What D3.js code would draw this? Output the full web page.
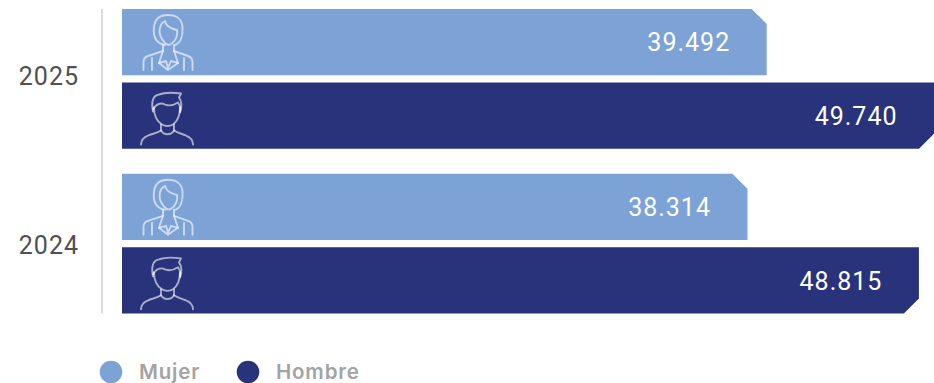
<!DOCTYPE html>
<html>
<head>
<meta charset="utf-8">
<script src="https://cdn.jsdelivr.net/npm/d3@7"></script>
<style>
html,body{margin:0;padding:0;background:#fff;}
svg{display:block;}
</style>
</head>
<body>
<svg id="chart" width="934" height="383"></svg>
<script>
const years = ["2025", "2024"];
const seriesNames = ["Mujer", "Hombre"];
const mujerValues = [39492, 38314];
const hombreValues = [49740, 48815];
const seriesColors = ["#7da2d6", "#29337b"];

const fmt = v => d3.format(",")(v).replace(",", ".");
const svg = d3.select("#chart");

const x = d3.scaleLinear().domain([0, 49740]).range([122, 934]);
const yYear = d3.scaleBand().domain(years).range([9, 313.5]).paddingInner(0.1525);
const ySeries = d3.scaleBand().domain(seriesNames).range([0, yYear.bandwidth()]).paddingInner(0.1);
const yLabel = d3.scalePoint().domain(years).range([76, 245]);

const defs = svg.append("defs");
defs.append("filter").attr("id", "soft").append("feGaussianBlur").attr("stdDeviation", 0.6);

// Line-art portraits, drawn around the icon's own origin
const womanIcon = [
  "M-3,30 C-13,28 -15,20 -14,12 C-13,3 -7,0 0,0 C8,0 14,4 14.5,12 C15,20 13,28 7,30",
  "M-6,24 C-10,18 -9,9 -3,6 C-2,11 4,14 9,15 C10,20 8,26 3,29 C0,31 -3,29 -6,24 Z",
  "M-5,30 L-5,36 L-20,41 C-23,42 -24.5,44 -24.5,47 L-24.5,55",
  "M6,30 L6,36 L20,41 C23,42 24.5,44 24.5,47 L24.5,55",
  "M-5,36 L-9,48 L-2,46 L0,53 L3,46 L10,48 L6,36",
  "M-16,43 L-16,55 M16,43 L16,55 M-9,48 L0,55 L10,48"
];
const manIcon = [
  "M-14,18 C-16,8 -14,2 -8,1 C-3,-1 6,-1 14,0 L12,4 C15,8 15,13 13,19",
  "M-14,16 C-11,10 -6,9 -2,11 C3,13 8,11 11,9 C13,12 14,15 13,18",
  "M-13,14 C-13,22 -10,28 -5,31 C-2,33 3,33 6,31 C10,28 13,23 13,14",
  "M-6,31 L-6,37 C-10,40 -15,40 -19,42 C-24,44 -26,47 -26,51",
  "M7,31 L7,37 C11,40 15,40 19,42 C24,44 26,47 26,51",
  "M-6,37 C-3,42 4,42 7,37"
];

const clip = 15;
// Bar outline with one chamfered corner: top right for Mujer, bottom right for Hombre
const barPath = (x0, x1, y0, h, top) => {
  const p = d3.path();
  p.moveTo(x0, y0);
  if (top) {
    p.lineTo(x1 - clip, y0);
    p.lineTo(x1, y0 + clip);
    p.lineTo(x1, y0 + h);
    p.lineTo(x0, y0 + h);
  } else {
    p.lineTo(x1, y0);
    p.lineTo(x1, y0 + h - clip);
    p.lineTo(x1 - clip, y0 + h);
    p.lineTo(x0, y0 + h);
  }
  p.closePath();
  return p.toString();
};

// Vertical axis rule
svg.append("line")
  .attr("x1", 102).attr("x2", 102)
  .attr("y1", 9).attr("y2", 313.5)
  .attr("stroke", "#dcdcdc").attr("stroke-width", 2);

const rows = years.flatMap((year, i) => [
  {year, name: seriesNames[0], value: mujerValues[i], color: seriesColors[0], icon: womanIcon, iconDx: 46, iconDy: 6},
  {year, name: seriesNames[1], value: hombreValues[i], color: seriesColors[1], icon: manIcon, iconDx: 45, iconDy: 11}
]);

const rowG = svg.selectAll("g.row").data(rows).join("g").attr("class", "row");

rowG.append("path")
  .attr("d", d => barPath(x(0), x(d.value), yYear(d.year) + ySeries(d.name), ySeries.bandwidth(), d.name === "Mujer"))
  .attr("fill", d => d.color);

rowG.append("g")
  .attr("transform", d => `translate(${x(0) + d.iconDx},${yYear(d.year) + ySeries(d.name) + d.iconDy})`)
  .attr("filter", "url(#soft)")
  .selectAll("path").data(d => d.icon).join("path")
  .attr("d", d => d)
  .attr("fill", "none")
  .attr("stroke", "#fff")
  .attr("stroke-opacity", 0.6)
  .attr("stroke-width", 1.9)
  .attr("stroke-linecap", "round")
  .attr("stroke-linejoin", "round");

rowG.append("text")
  .attr("x", d => x(d.value) - 36.5)
  .attr("y", d => yYear(d.year) + ySeries(d.name) + ySeries.bandwidth() / 2 + 0.5)
  .attr("dy", "0.35em")
  .attr("text-anchor", "end")
  .attr("fill", "#fff")
  .attr("font-family", "Roboto, sans-serif")
  .attr("font-weight", 400)
  .attr("font-size", 25)
  .attr("letter-spacing", 1)
  .text(d => fmt(d.value));

// Year labels
svg.selectAll("text.year").data(years).join("text")
  .attr("class", "year")
  .attr("x", 79)
  .attr("y", d => yLabel(d))
  .attr("dy", "0.35em")
  .attr("text-anchor", "end")
  .attr("fill", "#505050")
  .attr("font-family", "Roboto, sans-serif")
  .attr("font-weight", 400)
  .attr("font-size", 25)
  .attr("letter-spacing", 1)
  .text(d => d);

// Legend
const legendX = [111, 248];
const legend = svg.selectAll("g.legend").data(seriesNames).join("g")
  .attr("class", "legend")
  .attr("transform", (d, i) => `translate(${legendX[i]},372)`);
legend.append("circle").attr("r", 11.3).attr("fill", (d, i) => seriesColors[i]);
legend.append("text")
  .attr("x", 28)
  .attr("dy", "0.35em")
  .attr("fill", "#a3a3a3")
  .attr("font-family", "Inter, sans-serif")
  .attr("font-weight", 600)
  .attr("font-size", 20.5)
  .attr("letter-spacing", 0.8)
  .text(d => d);
</script>
</body>
</html>
